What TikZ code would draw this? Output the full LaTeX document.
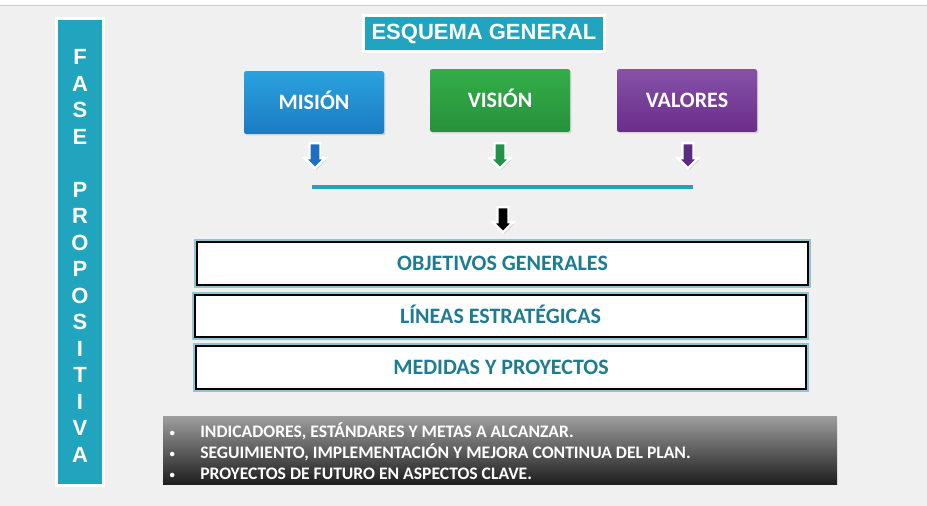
\documentclass[tikz,border=0pt]{standalone}
\usepackage{fontspec}
\setmainfont{Carlito}
\newfontfamily\arialfont{Liberation Sans}
\usetikzlibrary{shapes.arrows,shadows}
\definecolor{fondo}{HTML}{F0F0F0}
\definecolor{turquesa}{HTML}{21A4BD}
\definecolor{textoazul}{HTML}{1D7C91}
\definecolor{brillo}{HTML}{8EC5D0}
\definecolor{azulA}{HTML}{2BA2DE}\definecolor{azulB}{HTML}{1B7BC3}
\definecolor{verdeA}{HTML}{34AE49}\definecolor{verdeB}{HTML}{27913C}
\definecolor{moradoA}{HTML}{8652A7}\definecolor{moradoB}{HTML}{6A2C8B}
\definecolor{flechaazul}{HTML}{1F6EC0}
\definecolor{flechaverde}{HTML}{22914A}
\definecolor{flechamorada}{HTML}{5C2C82}
\tikzset{
  sombra/.style={drop shadow={shadow xshift=1pt, shadow yshift=-1.2pt, opacity=0.25}},
  cabecera/.style={fill=turquesa, draw=white, line width=2.2pt, text=white, inner sep=0pt, font=\arialfont\bfseries\fontsize{16.5}{18}\selectfont, sombra},
  letra/.style={text=white, inner sep=0pt, font=\arialfont\bfseries\fontsize{16.5}{18}\selectfont},
  tarjeta/.style={rectangle, rounded corners=1.5pt, minimum width=105pt, minimum height=47pt, text=white, text height=10.5pt, text depth=0pt, font=\bfseries\fontsize{16.5}{18}\selectfont, sombra},
  flecha/.style={single arrow, shape border rotate=270, draw=white, line width=1.8pt, inner sep=3.2pt, minimum height=19pt, single arrow head extend=3.5pt, drop shadow={shadow xshift=0.8pt, shadow yshift=-1.2pt, opacity=0.35}},
  bloque/.style={rectangle, draw=black, line width=1.5pt, fill=white, minimum width=458pt, minimum height=32pt, text=textoazul, text height=10.5pt, text depth=0pt, font=\bfseries\fontsize{16.5}{18}\selectfont, preaction={draw=brillo, line width=4.5pt}}
}
\newcommand{\vineta}{\makebox[24pt][l]{\hspace{1pt}\raisebox{0.5pt}{\fontsize{8}{8}\selectfont\textbullet}}}

\begin{document}
\begin{tikzpicture}[x=0.75pt, y=-0.75pt]
  \useasboundingbox (0,0) rectangle (927,506);
  \fill[fondo] (0,0) rectangle (927,506);
  \fill[white] (0,0) rectangle (927,5);
  \draw[black!20, line width=0.6pt] (0,5.5) -- (927,5.5);

  % barra lateral
  \node[cabecera, minimum width=35pt, minimum height=350pt] (fase) at (80,252) {};
  \foreach \letra [count=\i from 0] in {F,A,S,E,{},P,R,O,P,O,S,I,T,I,V,A}
    \node[letra] (l\i) at (80,{57+26.5*\i}) {\letra};

  % cabecera y tarjetas
  \node[cabecera, minimum width=181pt, minimum height=27pt] (titulo) at (484,33.5) {ESQUEMA GENERAL};
  \node[tarjeta, top color=azulA, bottom color=azulB] (mision) at (314,102.5) {MISIÓN};
  \node[tarjeta, top color=verdeA, bottom color=verdeB] (vision) at (500,100.5) {VISIÓN};
  \node[tarjeta, top color=moradoA, bottom color=moradoB] (valores) at (687,100.5) {VALORES};

  \node[flecha, fill=flechaazul] (fmision) at (315,153) {};
  \node[flecha, fill=flechaverde] (fvision) at (500,153) {};
  \node[flecha, fill=flechamorada] (fvalores) at (688,153) {};

  \coordinate (izq) at (312,187);
  \coordinate (der) at (693,187);
  \draw[turquesa, line width=3pt] (izq) -- (der);
  \node[flecha, fill=black] (fcentral) at (503,217) {};

  % bloques
  \node[bloque] (objetivos) at (502.5,263.5) {OBJETIVOS GENERALES};
  \node[bloque] (lineas) at (500.5,316) {LÍNEAS ESTRATÉGICAS};
  \node[bloque] (medidas) at (501,367.5) {MEDIDAS Y PROYECTOS};

  % notas
  \shade[top color=black!38, middle color=black!72, bottom color=black!88] (163,416) rectangle (837,484);
  \node[anchor=west, align=left, text=white, inner sep=0pt, font=\bfseries\fontsize{13.2}{15.75}\selectfont] (notas) at (168,451)
    {\vineta INDICADORES, ESTÁNDARES Y METAS A ALCANZAR.\\
     \vineta SEGUIMIENTO, IMPLEMENTACIÓN Y MEJORA CONTINUA DEL PLAN.\\
     \vineta PROYECTOS DE FUTURO EN ASPECTOS CLAVE.};
\end{tikzpicture}
\end{document}
